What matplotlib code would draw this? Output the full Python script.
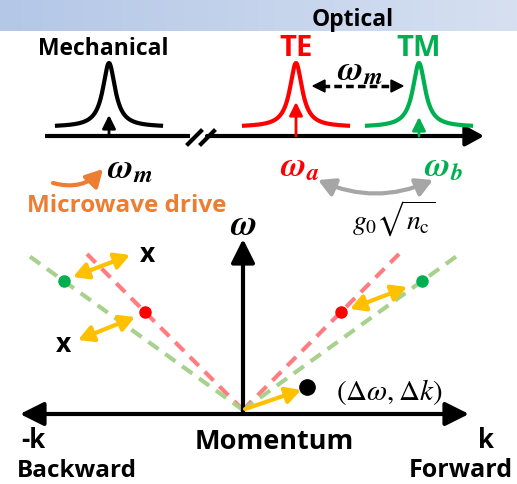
import matplotlib.pyplot as plt
import numpy as np
from matplotlib.patches import FancyArrowPatch, Polygon
from matplotlib.colors import LinearSegmentedColormap

plt.rcParams['mathtext.fontset'] = 'stix'
FONT = 'Open Sans'

W, H = 517, 485

# upper panel: resonance peaks (centre x, colour, arrow tip y)
peak_x = [109, 296, 419]
peak_colors = ['black', '#ff0000', '#00b050']
peak_tip = [116, 103, 118]
peak_names = ['Mechanical', 'TE', 'TM']
peak_name_x = [103, 296, 419]

# lower panel: dispersion lines (red = TE, green = TM)
disp_colors = ['#ff7c80', '#a9d18e']
dot_colors = ['#ff0000', '#00b050']
disp_slope = [1.0, 0.72]
disp_reach = [156, 213]
dot_dx = [98, 179]

origin = (243, 411)
yellow = '#ffc000'
orange = '#ed7d31'

fig = plt.figure(figsize=(W / 100, H / 100), dpi=100)
ax = fig.add_axes([0, 0, 1, 1])
ax.set_xlim(0, W)
ax.set_ylim(H, 0)
ax.axis('off')

# banner on top
grad = np.linspace(0, 1, 256).reshape(1, -1)
cm = LinearSegmentedColormap.from_list('ban', ['#b4c7e7', '#d6e0f1'])
ax.imshow(grad, cmap=cm, extent=[0, W, 32, 0], aspect='auto', zorder=0)
ax.text(353, 20, 'Optical', fontsize=16.5, fontweight='bold', family=FONT,
        ha='center', va='center')


def arrow(p1, p2, color='black', lw=3, style='-|>', hl=0.8, hw=0.45, ms=10,
          rad=0.0, z=3):
    a = FancyArrowPatch(p1, p2, arrowstyle=f'{style},head_length={hl},head_width={hw}',
                        mutation_scale=ms, color=color, lw=lw, shrinkA=0, shrinkB=0,
                        connectionstyle=f'arc3,rad={rad}', zorder=z)
    ax.add_patch(a)


def head(tip, direction, color='black', L=12, Wd=12):
    d = np.array(direction, float)
    d /= np.linalg.norm(d)
    n = np.array([-d[1], d[0]])
    t = np.array(tip, float)
    b = t - d * L
    ax.add_patch(Polygon([t, b + n * Wd / 2, b - n * Wd / 2], closed=True,
                         color=color, zorder=4))


# spectrum axis with break
ax.plot([45, 190], [137, 137], color='black', lw=3, solid_capstyle='butt')
ax.plot([188, 201], [145, 132], color='black', lw=3)
ax.plot([201, 214], [145, 132], color='black', lw=3)
arrow((207, 137), (484, 137), hl=1.0, hw=0.55, ms=11)

# Lorentzian peaks
for cx, col, tip in zip(peak_x, peak_colors, peak_tip):
    xs = np.linspace(cx - 52, cx + 52, 300)
    ys = 128 - 64 / (1 + ((xs - cx) / 7.5) ** 2)
    ax.plot(xs, ys, color=col, lw=3, zorder=3)
    arrow((cx, 137), (cx, tip), color=col, lw=2, hl=1.0, hw=0.5, ms=8)

for name, nx, col in zip(peak_names, peak_name_x, peak_colors):
    fs = 16.5 if name == 'Mechanical' else 21
    ax.text(nx, 49, name, fontsize=fs, fontweight='bold', family=FONT,
            color=col, ha='center', va='center')

# omega_m spacing between TE and TM
ax.plot([322, 394], [87, 87], color='black', lw=2.5, ls=(0, (2.2, 1.2)))
head((313, 87), (-1, 0))
head((403, 87), (1, 0))
ax.text(360, 70, r'$\mathbfit{\omega_m}$', fontsize=25, ha='center', va='center')

# labels under the spectrum axis
ax.text(130, 168, r'$\mathbfit{\omega_m}$', fontsize=25, ha='center', va='center')
ax.text(300, 166, r'$\mathbfit{\omega_a}$', fontsize=25, color='#ff0000',
        ha='center', va='center')
ax.text(443, 166, r'$\mathbfit{\omega_b}$', fontsize=25, color='#00b050',
        ha='center', va='center')

arrow((53, 184), (103, 170), color=orange, lw=3, hl=1.0, hw=0.55, ms=10, rad=0.3)
ax.text(127, 206, 'Microwave drive', fontsize=17.5, fontweight='bold', family=FONT,
        color=orange, ha='center', va='center')

arrow((318, 181), (433, 181), color='#a6a6a6', lw=3, style='<|-|>', hl=1.0,
      hw=0.55, ms=10, rad=0.22)
ax.text(394, 219, r'$g_0\sqrt{n_\mathrm{c}}$', fontsize=20, ha='center', va='center')

# dispersion diagram axes
arrow((20, 415), (469, 415), style='<|-|>', hl=1.1, hw=0.55, ms=13)
arrow((243, 415), (243, 240), hl=1.1, hw=0.55, ms=13)
ax.text(243, 225, r'$\mathbfit{\omega}$', fontsize=26, ha='center', va='center')

ox, oy = origin
for col, dcol, s, reach, ddx in zip(disp_colors, dot_colors, disp_slope,
                                    disp_reach, dot_dx):
    for sign in (-1, 1):
        ax.plot([ox, ox + sign * reach], [oy, oy - s * reach], color=col, lw=3,
                ls=(0, (3, 2)), zorder=2)
        ax.plot(ox + sign * ddx, oy - s * ddx, 'o', color=dcol, ms=8, zorder=5)

# coupling arrows
arrow((73, 278), (130, 256), color=yellow, lw=3, style='<|-|>', hl=1.0, hw=0.55, ms=9)
arrow((78, 341), (135, 318), color=yellow, lw=3, style='<|-|>', hl=1.0, hw=0.55, ms=9)
arrow((350, 310), (407, 288), color=yellow, lw=3, style='<|-|>', hl=1.0, hw=0.55, ms=9)
arrow((245, 410), (301, 391), color=yellow, lw=3, hl=1.0, hw=0.55, ms=9)
ax.plot(307, 388, 'o', color='black', ms=11, zorder=5)
ax.text(389, 392, r'$(\Delta\omega, \Delta k)$', fontsize=21, ha='center', va='center')

ax.text(147, 254, 'x', fontsize=19, fontweight='bold', family=FONT, ha='center', va='center')
ax.text(63, 345, 'x', fontsize=19, fontweight='bold', family=FONT, ha='center', va='center')

ax.text(33, 441, '-k', fontsize=18.5, fontweight='bold', family=FONT, ha='center', va='center')
ax.text(486, 441, 'k', fontsize=18.5, fontweight='bold', family=FONT, ha='center', va='center')
ax.text(274, 442, 'Momentum', fontsize=19.5, fontweight='bold', family=FONT,
        ha='center', va='center')
ax.text(17, 471, 'Backward', fontsize=17.5, fontweight='bold', family=FONT,
        ha='left', va='center')
ax.text(409, 471, 'Forward', fontsize=18, fontweight='bold', family=FONT,
        ha='left', va='center')

fig.savefig('out.png', dpi=100)
